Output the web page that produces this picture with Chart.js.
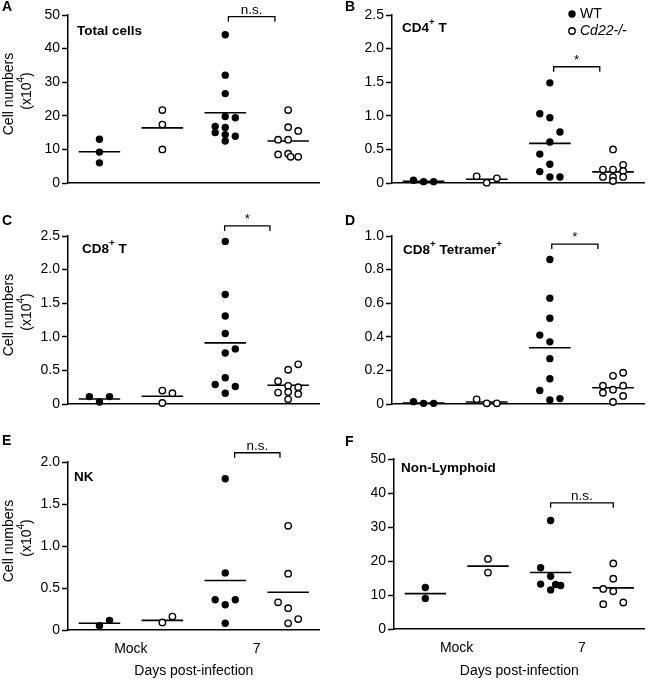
<!DOCTYPE html>
<html>
<head>
<meta charset="utf-8">
<script src="https://cdn.jsdelivr.net/npm/chart.js@4"></script>
<style>
body { margin: 0; background: #fff; }
#wrap { position: relative; width: 650px; height: 680px; }
canvas { position: absolute; }
</style>
</head>
<body>
<div id="wrap">
<canvas id="pA"></canvas>
<canvas id="pB"></canvas>
<canvas id="pC"></canvas>
<canvas id="pD"></canvas>
<canvas id="pE"></canvas>
<canvas id="pF"></canvas>
</div>
<script>
const FONT = 'Arial, "Liberation Sans", sans-serif';

// groups: WT mock, Cd22-/- mock, WT day 7, Cd22-/- day 7
const xLabels = ['Mock', '7'];
const xLabelPos = [1.5, 3.5];

// each point: [value (x10^4), horizontal jitter]
const totalPoints = [
  [[13.0, 0], [9.2, 0], [6.0, 0]],
  [[21.7, 0], [17.4, 0], [10.0, 0]],
  [[44.1, 0], [32.1, 0], [26.6, 0], [19.8, 0], [19.4, 0.16], [16.8, -0.16], [16.5, 0], [15.0, -0.16], [14.4, 0], [13.9, 0.16], [12.5, 0]],
  [[21.7, 0], [16.6, 0], [15.5, 0.16], [12.9, -0.16], [12.9, 0], [8.5, -0.16], [8.7, 0], [7.8, 0.04], [7.8, 0.16]]
];
const totalMeans = [9.3, 16.4, 20.9, 12.5];
const totalTicks = ['0', '10', '20', '30', '40', '50'];

const cd4Points = [
  [[0.04, -0.16], [0.02, 0], [0.02, 0.16]],
  [[0.10, -0.16], [0.005, 0], [0.07, 0.16]],
  [[1.49, 0], [1.03, -0.16], [0.97, 0], [0.76, 0.16], [0.61, 0], [0.43, -0.16], [0.28, 0], [0.17, -0.16], [0.09, 0], [0.09, 0.16]],
  [[0.50, 0], [0.27, 0.16], [0.20, -0.16], [0.20, 0], [0.18, 0.16], [0.09, -0.16], [0.09, 0], [0.09, 0.16], [0.03, 0]]
];
const cd4Means = [0.025, 0.055, 0.59, 0.165];
const cd4Ticks = ['0', '0.5', '1.0', '1.5', '2.0', '2.5'];

const cd8Points = [
  [[0.11, -0.16], [0.03, 0], [0.11, 0.16]],
  [[0.20, 0], [0.16, 0.16], [0.015, 0]],
  [[2.42, 0], [1.63, 0], [1.31, 0], [1.05, 0], [0.82, 0.16], [0.76, 0], [0.39, 0], [0.29, -0.16], [0.26, 0.16], [0.16, 0]],
  [[0.59, 0.16], [0.51, 0], [0.34, -0.16], [0.27, 0], [0.25, 0.16], [0.17, -0.16], [0.18, 0], [0.15, 0.16], [0.07, 0]]
];
const cd8Means = [0.075, 0.115, 0.91, 0.28];
const cd8Ticks = ['0', '0.5', '1.0', '1.5', '2.0', '2.5'];

const tetPoints = [
  [[0.014, -0.16], [0.004, 0], [0.004, 0.16]],
  [[0.028, -0.16], [0.004, 0], [0.004, 0.16]],
  [[0.86, 0], [0.63, 0], [0.51, 0], [0.41, -0.16], [0.37, 0], [0.27, 0], [0.15, 0], [0.08, -0.16], [0.024, 0], [0.032, 0.16]],
  [[0.186, 0.16], [0.168, 0], [0.109, -0.16], [0.109, 0.16], [0.085, 0], [0.067, -0.16], [0.048, 0.16], [0.012, 0]]
];
const tetMeans = [0.006, 0.012, 0.335, 0.097];
const tetTicks = ['0', '0.2', '0.4', '0.6', '0.8', '1.0'];

const nkPoints = [
  [[0.05, 0], [0.115, 0.16]],
  [[0.09, 0], [0.16, 0.16]],
  [[1.80, 0], [0.68, 0], [0.36, -0.16], [0.36, 0.16], [0.30, 0], [0.08, 0]],
  [[1.24, 0], [0.67, 0], [0.33, -0.16], [0.26, 0], [0.13, 0.16], [0.08, 0]]
];
const nkMeans = [0.08, 0.115, 0.59, 0.45];
const nkTicks = ['0', '0.5', '1.0', '1.5', '2.0'];

const nonLymPoints = [
  [[12.2, 0], [9.0, 0]],
  [[20.6, 0], [16.6, 0]],
  [[31.9, 0], [18.0, -0.16], [15.5, 0], [13.2, -0.16], [13.1, 0.08], [12.8, 0.16], [11.5, 0]],
  [[19.3, 0], [14.8, 0], [11.8, -0.16], [11.1, 0], [7.3, -0.16], [7.8, 0.16]]
];
const nonLymMeans = [10.4, 18.5, 16.6, 12.1];
const nonLymTicks = ['0', '10', '20', '30', '40', '50'];

// significance brackets: [from, to, y value, label]
const brackets = [
  [3.05, 3.79, 49.5, 'n.s.'],
  [3.06, 3.79, 1.73, '*'],
  [2.99, 3.71, 2.65, '*'],
  [3.03, 3.76, 0.952, '*'],
  [3.15, 3.87, 2.11, 'n.s.'],
  [3.0, 4.0, 37.1, 'n.s.']
];

const panels = [
  { id: 'pA', letter: 'A', title: 'Total cells', pts: totalPoints, means: totalMeans, ticks: totalTicks,
    box: [0, 0, 325, 215], area: [68, 15, 322, 183], letterAt: [2, 7], titleAt: [9, 16], yTitle: true },
  { id: 'pB', letter: 'B', title: 'CD4^+^ T', pts: cd4Points, means: cd4Means, ticks: cd4Ticks,
    box: [325, 0, 325, 215], area: [392, 15, 650, 183], letterAt: [20, 7], titleAt: [10, 13], legend: true },
  { id: 'pC', letter: 'C', title: 'CD8^+^ T', pts: cd8Points, means: cd8Means, ticks: cd8Ticks,
    box: [0, 205, 325, 215], area: [68, 236, 322, 404], letterAt: [2, 16], titleAt: [14, 13], yTitle: true },
  { id: 'pD', letter: 'D', title: 'CD8^+^ Tetramer^+^', pts: tetPoints, means: tetMeans, ticks: tetTicks,
    box: [325, 205, 325, 215], area: [392, 236, 650, 404], letterAt: [20, 16], titleAt: [11, 14] },
  { id: 'pE', letter: 'E', title: 'NK', pts: nkPoints, means: nkMeans, ticks: nkTicks,
    box: [0, 425, 325, 255], area: [68, 462, 322, 630], letterAt: [2, 16], titleAt: [6, 15], yTitle: true, xAxis: true },
  { id: 'pF', letter: 'F', title: 'Non-Lymphoid', pts: nonLymPoints, means: nonLymMeans, ticks: nonLymTicks,
    box: [325, 425, 325, 255], area: [394, 459, 650, 629], letterAt: [20, 17], titleAt: [7, 9], xAxis: true }
];

function rich(ctx, text, x, y, size, weight, align) {
  const parts = text.split('^');
  const fontFor = i => (weight ? weight + ' ' : '') + (i % 2 ? size * 0.72 : size) + 'px ' + FONT;
  let w = 0;
  parts.forEach((t, i) => { ctx.font = fontFor(i); w += ctx.measureText(t).width; });
  let cx = align === 'center' ? x - w / 2 : x;
  ctx.textAlign = 'left';
  ctx.textBaseline = 'middle';
  parts.forEach((t, i) => {
    ctx.font = fontFor(i);
    ctx.fillText(t, cx, i % 2 ? y - size * 0.42 : y);
    cx += ctx.measureText(t).width;
  });
}

const decor = {
  id: 'decor',
  afterDraw(chart, args, o) {
    const ctx = chart.ctx, a = chart.chartArea;
    const xs = chart.scales.x, ys = chart.scales.y;
    ctx.save();
    ctx.fillStyle = '#000';
    ctx.strokeStyle = '#000';

    ctx.font = 'bold 14px ' + FONT;
    ctx.textAlign = 'left';
    ctx.textBaseline = 'middle';
    ctx.fillText(o.letter, o.letterAt[0], o.letterAt[1]);

    rich(ctx, o.title, a.left + o.titleAt[0], a.top + o.titleAt[1], 13.5, 'bold');

    const [b0, b1, bv, bl] = o.bracket;
    const x0 = xs.getPixelForValue(b0), x1 = xs.getPixelForValue(b1), y = ys.getPixelForValue(bv);
    ctx.lineWidth = 1.3;
    ctx.beginPath();
    ctx.moveTo(x0, y + 5); ctx.lineTo(x0, y); ctx.lineTo(x1, y); ctx.lineTo(x1, y + 5);
    ctx.stroke();
    ctx.font = '13.5px ' + FONT;
    ctx.textAlign = 'center';
    ctx.textBaseline = 'alphabetic';
    ctx.fillText(bl, (x0 + x1) / 2, y - 3);

    if (o.yTitle) {
      const cy = (a.top + a.bottom) / 2 - 5;
      ctx.save();
      ctx.translate(9, cy);
      ctx.rotate(-Math.PI / 2);
      rich(ctx, 'Cell numbers', 0, 0, 14, '', 'center');
      ctx.restore();
      ctx.save();
      ctx.translate(27.5, cy - 3);
      ctx.rotate(-Math.PI / 2);
      rich(ctx, '(x10^4^)', 0, 0, 14, '', 'center');
      ctx.restore();
    }

    if (o.legend) {
      const lx = a.left + 180;
      ctx.beginPath();
      ctx.arc(lx, a.top - 1, 3.7, 0, Math.PI * 2);
      ctx.fill();
      ctx.beginPath();
      ctx.lineWidth = 1.4;
      ctx.arc(lx, a.top + 16, 3.2, 0, Math.PI * 2);
      ctx.stroke();
      ctx.textAlign = 'left';
      ctx.textBaseline = 'middle';
      ctx.font = '14px ' + FONT;
      ctx.fillText('WT', lx + 8, a.top - 1);
      ctx.font = 'italic 14px ' + FONT;
      ctx.fillText('Cd22-/-', lx + 8, a.top + 16);
    }
    ctx.restore();
  }
};

panels.forEach((p, pi) => {
  const cv = document.getElementById(p.id);
  const [bl, bt, bw, bh] = p.box;
  const [al, at, ar, ab] = p.area;
  cv.width = bw; cv.height = bh;
  cv.style.left = bl + 'px';
  cv.style.top = bt + 'px';

  const toXY = g => p.pts[g].map(([v, j]) => ({ x: g + 1 + j, y: v }));
  const wt = toXY(0).concat(toXY(2));
  const ko = toXY(1).concat(toXY(3));
  const meanSets = p.means.map((m, g) => ({
    data: [{ x: g + 1 - 0.33, y: m }, { x: g + 1 + 0.33, y: m }],
    showLine: true, borderColor: '#000', borderWidth: 1.6, pointRadius: 0
  }));

  new Chart(cv.getContext('2d'), {
    type: 'scatter',
    data: {
      datasets: [
        { label: 'WT', data: wt, backgroundColor: '#000', borderWidth: 0, pointRadius: 3.7, clip: false },
        { label: 'Cd22-/-', data: ko, backgroundColor: '#fff', borderColor: '#000', borderWidth: 1.4, pointRadius: 3.2, clip: false }
      ].concat(meanSets)
    },
    options: {
      responsive: false,
      animation: false,
      layout: { padding: { left: 0, top: at - bt, right: bl + bw - ar, bottom: 0 } },
      plugins: {
        legend: { display: false },
        tooltip: { enabled: false },
        decor: Object.assign({}, p, { bracket: brackets[pi] })
      },
      scales: {
        x: {
          type: 'linear', min: 0.5, max: 4.5,
          afterFit: s => { s.height = bt + bh - ab; },
          afterBuildTicks: s => { s.ticks = p.xAxis ? xLabelPos.map(v => ({ value: v })) : []; },
          border: { display: true, color: '#000', width: 1.5 },
          grid: { drawOnChartArea: false, drawTicks: false },
          ticks: {
            display: !!p.xAxis, padding: 11, color: '#000', maxRotation: 0, autoSkip: false,
            font: { size: 14, family: FONT },
            callback: (v, i) => xLabels[i]
          },
          title: { display: !!p.xAxis, text: 'Days post-infection', color: '#000', padding: 0, font: { size: 14, family: FONT } }
        },
        y: {
          type: 'linear', min: 0, max: parseFloat(p.ticks[p.ticks.length - 1]),
          afterFit: s => { s.width = al - bl; },
          afterBuildTicks: s => { s.ticks = p.ticks.map(t => ({ value: parseFloat(t) })); },
          border: { display: true, color: '#000', width: 1.5 },
          grid: { drawOnChartArea: false, drawTicks: true, tickLength: 6, tickColor: '#000', tickWidth: 1.5 },
          ticks: {
            padding: 2, color: '#000', font: { size: 14, family: FONT },
            callback: (v, i) => p.ticks[i]
          }
        }
      }
    },
    plugins: [decor]
  });
});
</script>
</body>
</html>
